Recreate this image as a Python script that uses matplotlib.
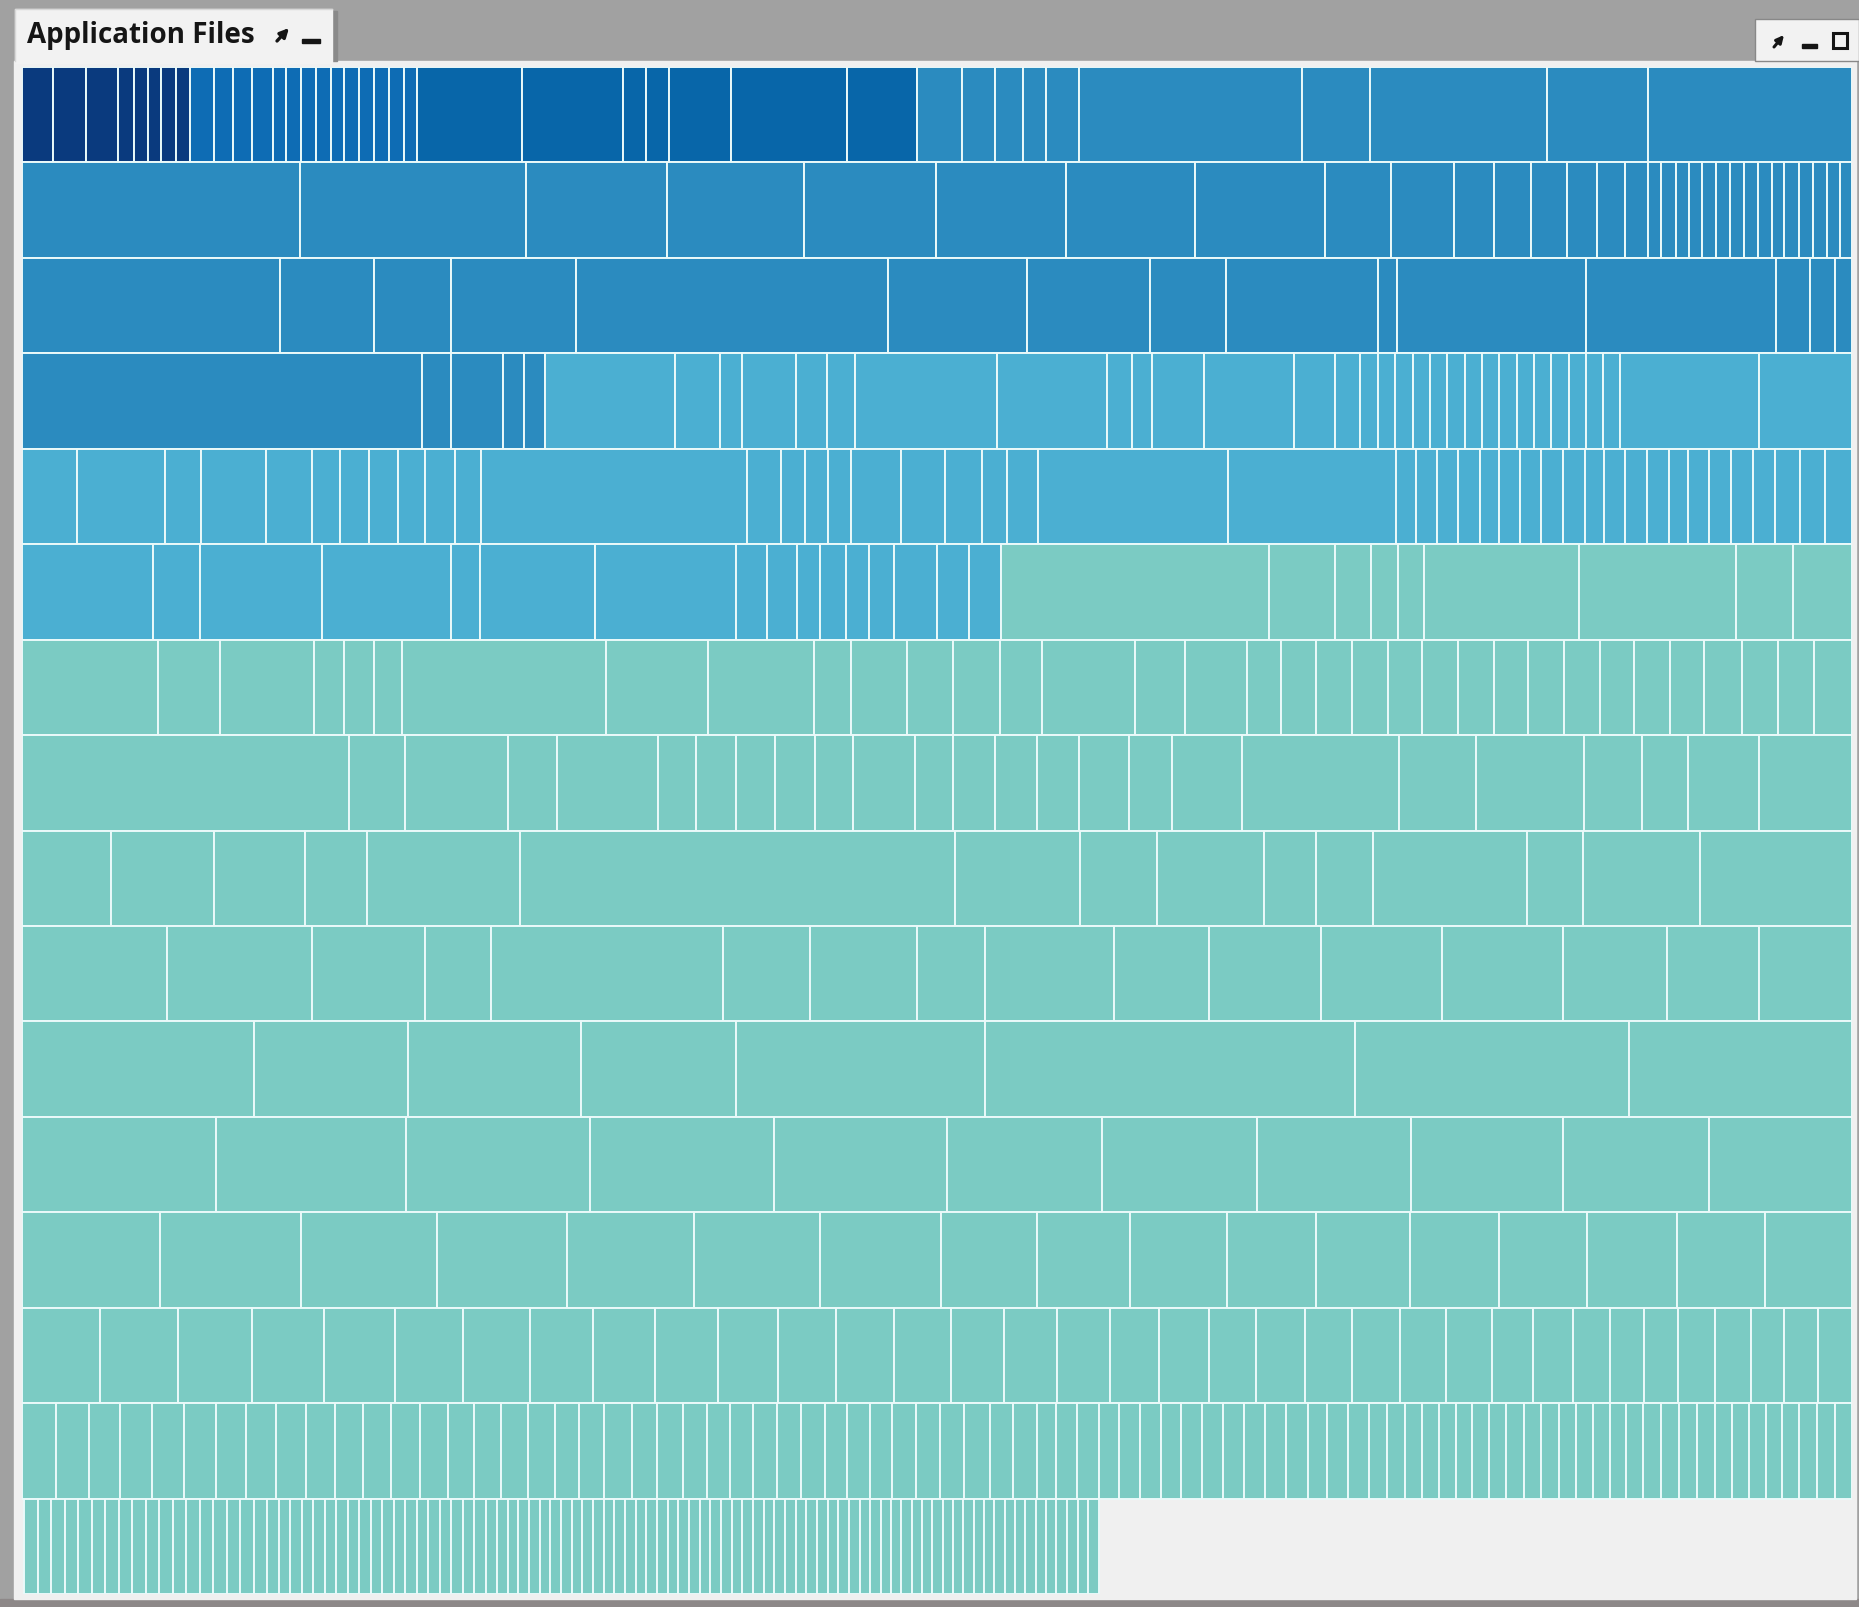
import matplotlib
matplotlib.use("Agg")
import matplotlib.pyplot as plt
import numpy as np
from matplotlib.patches import Rectangle

# cell sizes per treemap row, left to right (rows 1-15 fill the full width)
row01 = [31, 33, 32, 16, 14, 13, 15, 14,
         24, 19, 19, 21, 13, 15, 15, 15, 13, 15, 15, 15, 15, 13,
         106, 101, 23, 23, 62, 116, 70,
         45, 33, 28, 23, 33, 223, 68, 178, 101, 204]
row02 = [278, 225, 141, 137, 132, 130, 129, 130, 66, 62, 40, 37, 36, 30, 28, 23,
         13, 15, 13, 13, 14, 14, 14, 14, 14, 12, 15, 14, 14, 13, 12]
row03 = [258, 94, 77, 126, 312, 139, 123, 76, 152, 20, 189, 190, 34, 25, 17]
row04 = [400, 29, 52, 21, 21,
         130, 45, 22, 54, 31, 28, 141, 110, 25, 20, 52, 90, 41, 25,
         18, 17, 18, 17, 17, 18, 17, 17, 18, 17, 17, 18, 17, 17, 17,
         139, 93]
row05 = [55, 88, 36, 65, 46, 28, 29, 29, 27, 30, 27, 266, 34, 24, 23, 23, 50, 44,
         37, 25, 31, 190, 169,
         20, 21, 21, 22, 19, 21, 21, 22, 22, 19, 21, 22, 22, 19, 21, 22, 22, 22,
         25, 25, 27]
row06 = [131, 47, 122, 129, 28, 115, 141, 31, 30, 23, 26, 23, 25, 43, 32, 32,
         268, 66, 36, 26, 26, 155, 157, 57, 59]
row07 = [136, 63, 94, 30, 30, 28, 205, 102, 106, 37, 56, 47, 47, 42, 93, 50, 62,
         34, 36, 36, 36, 34, 36, 36, 34, 36, 36, 34, 37, 34, 38, 36, 36, 38]
row08 = [328, 56, 103, 49, 101, 38, 40, 39, 40, 38, 62, 39, 42, 42, 42, 50, 43,
         70, 157, 77, 109, 58, 46, 71, 93]
row09 = [89, 103, 91, 62, 153, 435, 125, 77, 107, 52, 57, 154, 56, 117, 152]
row10 = [145, 145, 113, 66, 232, 87, 107, 69, 129, 95, 112, 121, 121, 104, 92, 93]
row11 = [232, 154, 173, 155, 249, 370, 274, 223]
row12 = [194, 190, 184, 184, 173, 155, 155, 154, 152, 146, 143]
row13 = [138, 141, 136, 130, 127, 126, 122, 96, 93, 97, 89, 94, 89, 88, 90, 88, 87]
row14 = [78, 78, 74, 72, 71, 68, 66, 63, 62, 63, 60, 58, 58, 57, 53, 53, 53, 49,
         50, 47, 49, 47, 47, 46, 46, 41, 40, 37, 34, 34, 37, 36, 33, 34, 34]
row15 = [34, 33, 32, 32, 32, 32, 30, 31, 30, 29, 28, 28, 30, 28, 26, 27, 27, 27,
         25, 25, 28, 25, 26, 24, 24, 23, 24, 24, 24, 22, 24, 22, 24, 24, 24, 26,
         24, 24, 19, 21, 22, 20, 21, 21, 21, 21, 21, 21, 21, 21, 22, 20, 21, 21,
         18, 18, 17, 17, 17, 17, 17, 17, 18, 17, 18, 17, 17, 17, 17, 17, 18, 18,
         18, 18, 17, 17, 17, 17, 17, 18, 18, 17]
# last row is only partly filled (same units as the panel width)
row16 = [14, 13, 14, 13, 14, 13, 14, 13, 14, 13, 14, 13, 14, 13, 14, 13, 14, 13,
         12, 11, 12, 11, 12, 11, 12, 11, 12, 11, 12, 11, 12, 11, 12, 11, 12, 11,
         12, 11,
         11, 10, 11, 11, 10, 11, 11, 10, 11, 11, 10, 11, 11, 10, 11, 11, 10, 11,
         11, 10, 11, 11, 10, 11, 11, 10, 11, 11, 10, 11, 11, 10, 11, 11, 10, 11,
         10, 10, 11, 10, 10, 11, 10, 10, 11, 10, 10, 11, 10, 10, 11, 10, 10, 11,
         11, 10, 11]

rows = [row01, row02, row03, row04, row05, row06, row07, row08,
        row09, row10, row11, row12, row13, row14, row15]

# consecutive cells (row-major order) in each colour band; the rest is the last band
band_counts = [8, 14, 7, 61, 91]
band_colors = ["#0a3a7e", "#0e6cb4", "#0866a9", "#2b8bbf", "#4bafd2", "#7bcbc3"]

W, H = 1859, 1608
PANEL_W = 1830

fig = plt.figure(figsize=(W / 100, H / 100), dpi=100, facecolor="#a1a1a1")

# window chrome in pixel coordinates
bg = fig.add_axes([0, 0, 1, 1], zorder=0)
bg.set_xlim(0, W)
bg.set_ylim(H, 0)
bg.axis("off")
bg.add_patch(Rectangle((0, 1600), W, 8, color="#8d8888"))
bg.add_patch(Rectangle((14, 62), 1842, 1538, color="#f0f0f0"))
bg.add_patch(Rectangle((332, 12), 5, 50, color="#8a8a8a"))
bg.add_patch(Rectangle((15, 10), 317, 54, color="#f2f2f2"))
bg.plot([15, 15, 332], [62, 10, 10], color="#d8d8d8", lw=1)
bg.text(27, 36, "Application Files", fontsize=20, fontweight="bold",
        family="Open Sans", color="#151515", va="center", ha="left")
bg.annotate("", xy=(289, 29), xytext=(277, 42),
            arrowprops=dict(arrowstyle="-|>", lw=2.4, color="#151515",
                            mutation_scale=13, shrinkA=0, shrinkB=0))
bg.add_patch(Rectangle((302, 40), 18, 4, color="#151515"))
bg.add_patch(Rectangle((1755, 20), 104, 42, facecolor="#f2f2f2", edgecolor="#888888", lw=1))
bg.annotate("", xy=(1784, 36), xytext=(1774, 48),
            arrowprops=dict(arrowstyle="-|>", lw=2.2, color="#151515",
                            mutation_scale=11, shrinkA=0, shrinkB=0))
bg.add_patch(Rectangle((1802, 45), 15, 4, color="#151515"))
bg.add_patch(Rectangle((1833, 34), 14, 15, facecolor="none", edgecolor="#151515", lw=2.2))

# treemap
ax = fig.add_axes([22 / W, 1 - 1595 / H, PANEL_W / W, 1527 / H], zorder=1)
ax.set_xlim(0, PANEL_W)
ax.set_ylim(16, 0)
ax.axis("off")

bounds = np.cumsum(band_counts)
idx = 0


def cell_colors(n, start):
    out = []
    for k in range(start, start + n):
        out.append(band_colors[int(np.searchsorted(bounds, k, side="right"))])
    return out


for r, widths in enumerate(rows + [row16]):
    w = np.array(widths, dtype=float)
    if r < len(rows):
        w = w * PANEL_W / w.sum()
        offset = 0.0
    else:
        offset = 1.5
    lefts = offset + np.concatenate([[0], np.cumsum(w)[:-1]])
    ax.bar(lefts, 1.0, width=w, bottom=r, align="edge",
           color=cell_colors(len(w), idx), edgecolor="#eafafa", linewidth=1.4)
    idx += len(w)

fig.savefig("out.png", dpi=100, facecolor=fig.get_facecolor())
